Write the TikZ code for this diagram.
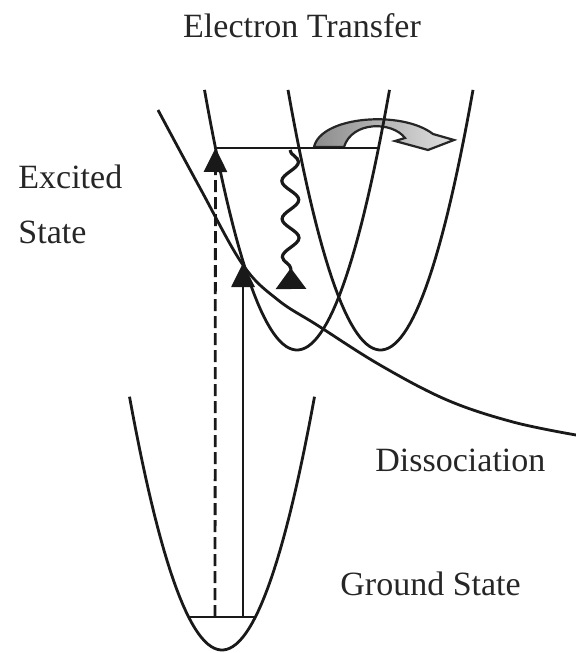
\documentclass[tikz,border=0pt]{standalone}
\usepackage{fontspec}
\setmainfont{Liberation Serif}
\newfontfamily\lblfont{Liberation Serif}
\usetikzlibrary{arrows.meta,decorations.pathmorphing}

\begin{document}
\begin{tikzpicture}[x=0.5pt, y=-0.5pt, lbl/.style={inner sep=0pt, font=\lblfont\fontsize{17}{20}\selectfont, text=black!85}, curve/.style={line width=1.4pt, black!90}, arrow/.style={line width=1.4pt, black!90, -{Triangle[length=12pt, width=11.5pt]}}, wavy/.style={line width=1.6pt, black!90, decorate, decoration={snake, amplitude=4.2pt, segment length=19pt, post length=3pt}, -{Triangle[reversed, length=10.5pt, width=15pt]}}, flow/.style={draw=black!85, line width=1.1pt, left color=black!45, right color=black!12}]
\useasboundingbox (0,0) rectangle (576,653);
% curved transfer arrow
\path[flow] (314,147) .. controls (321,116) and (402,110) .. (433,134) -- (454,140) -- (428,150) -- (395,141) -- (405,138) .. controls (392,121) and (352,121) .. (344,147) -- cycle;
% potential curves
\draw[curve] plot[domain=-92.5:92.5, samples=60] ({222+\x},{650-0.0296*\x*\x});
\draw[curve] plot[domain=-92.5:92.5, samples=60] ({297+\x},{350-0.0304*\x*\x});
\draw[curve] plot[domain=-92.5:92.5, samples=60] ({380.5+\x},{350-0.0304*\x*\x});
\draw[curve] plot[smooth, tension=0.6] coordinates {(158,110) (200,188) (243,265) (278,300) (317,325) (380,365) (447,400) (513,422) (576,435)};
% levels
\coordinate (g1) at (188,617); \coordinate (g2) at (256,617);
\coordinate (e1) at (215.5,148); \coordinate (e2) at (378.5,148);
\draw[curve] (g1) -- (g2); \draw[curve] (e1) -- (e2);
% transitions
\coordinate (da) at (215,617); \coordinate (sa) at (243,617); \coordinate (sb) at (243,263);
\coordinate (wa) at (290,150); \coordinate (wb) at (291,289);
\draw[arrow, dash pattern=on 6pt off 2.5pt] (da) -- (e1);
\draw[arrow] (sa) -- (sb);
\draw[wavy] (wa) -- (wb);
% labels
\node[lbl, anchor=base] (et) at (302,38) {Electron Transfer};
\node[lbl, anchor=base west] (ex) at (18,188) {Excited};
\node[lbl, anchor=base west] (st) at (18,243) {State};
\node[lbl, anchor=base west] (dis) at (375,471) {Dissociation};
\node[lbl, anchor=base west] (gs) at (340,595) {Ground State};
\end{tikzpicture}
\end{document}
